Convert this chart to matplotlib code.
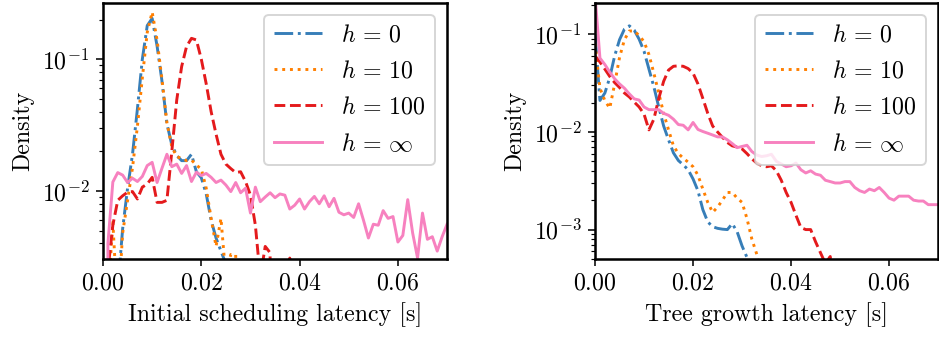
import matplotlib
matplotlib.use("Agg")
import matplotlib.pyplot as plt
import numpy as np

# bin positions [s], 1 ms bins
latency = np.arange(71) / 1000.0

labels = [r"$h\,=\,0$", r"$h\,=\,10$", r"$h\,=\,100$", r"$h\,=\,\infty$"]
colors = ["#377eb8", "#ff7f00", "#e41a1c", "#f781bf"]
styles = ["-.", ":", "--", "-"]

# initial scheduling latency densities
sched_h0 = [0, 0, 0, 0.0018, 0.0052, 0.0105, 0.019, 0.042, 0.1, 0.18,
            0.204, 0.126, 0.068, 0.0324, 0.0224, 0.0186, 0.017, 0.017, 0.019, 0.014,
            0.0126, 0.0095, 0.006, 0.0044, 0.0035, 0.0028, 0, 0, 0, 0,
            0, 0, 0, 0, 0, 0, 0, 0, 0, 0,
            0, 0, 0, 0, 0, 0, 0, 0, 0, 0,
            0, 0, 0, 0, 0, 0, 0, 0, 0, 0,
            0, 0, 0, 0, 0, 0, 0, 0, 0, 0, 0]
sched_h10 = [0, 0.0015, 0.0058, 0.0012, 0.0048, 0.0085, 0.015, 0.031, 0.072, 0.16,
             0.228, 0.14, 0.07, 0.033, 0.0217, 0.0182, 0.0177, 0.017, 0.0172, 0.0157,
             0.0147, 0.0105, 0.0062, 0.0038, 0.0062, 0.0022, 0.0033, 0.0033, 0, 0,
             0, 0, 0, 0, 0, 0, 0, 0, 0, 0,
             0, 0, 0, 0, 0, 0, 0, 0, 0, 0,
             0, 0, 0, 0, 0, 0, 0, 0, 0, 0,
             0, 0, 0, 0, 0, 0, 0, 0, 0, 0, 0]
sched_h100 = [0, 0.0025, 0.0055, 0.0085, 0.0092, 0.0098, 0.0099, 0.0087, 0.0107, 0.0113,
              0.0127, 0.0082, 0.0082, 0.0085, 0.02, 0.049, 0.088, 0.125, 0.144, 0.14,
              0.1, 0.065, 0.04, 0.027, 0.019, 0.016, 0.0148, 0.0138, 0.014, 0.0118,
              0.0093, 0.0055, 0.0022, 0.0038, 0.0034, 0, 0, 0, 0.0031, 0,
              0, 0, 0, 0, 0, 0, 0, 0, 0, 0,
              0, 0, 0, 0, 0, 0, 0, 0, 0, 0,
              0, 0, 0, 0, 0, 0, 0, 0, 0, 0, 0]
sched_hinf = [0, 0.004, 0.0117, 0.0138, 0.0132, 0.0116, 0.0125, 0.0118, 0.0129, 0.0156,
              0.0165, 0.0116, 0.0149, 0.019, 0.0153, 0.016, 0.0136, 0.0156, 0.0118, 0.0139,
              0.0131, 0.0136, 0.0127, 0.0116, 0.0121, 0.0111, 0.0099, 0.0116, 0.0097, 0.0105,
              0.0068, 0.0107, 0.0083, 0.009, 0.0097, 0.0089, 0.0095, 0.0093, 0.0073, 0.0078,
              0.0087, 0.0073, 0.0083, 0.0091, 0.008, 0.0092, 0.0076, 0.0088, 0.0069, 0.0066,
              0.0068, 0.0063, 0.008, 0.006, 0.0044, 0.0056, 0.0055, 0.0071, 0.0062, 0.0064,
              0.0041, 0.0046, 0.0086, 0.0048, 0.0031, 0.0068, 0.0043, 0.0045, 0.0035, 0.0045,
              0.0056]

# tree growth latency densities
tree_h0 = [0.1, 0.021, 0.025, 0.036, 0.06, 0.088, 0.113, 0.122, 0.11, 0.089,
           0.067, 0.044, 0.029, 0.018, 0.0115, 0.0083, 0.0061, 0.0051, 0.0046, 0.0041,
           0.0033, 0.0025, 0.0016, 0.0012, 0.00107, 0.00103, 0.00101, 0.001, 0.00115, 0.00095,
           0.00068, 0.00052, 0, 0, 0, 0, 0, 0, 0, 0,
           0, 0, 0, 0, 0, 0, 0, 0, 0, 0,
           0, 0, 0, 0, 0, 0, 0, 0, 0, 0,
           0, 0, 0, 0, 0, 0, 0, 0, 0, 0, 0]
tree_h10 = [0.08, 0.028, 0.021, 0.0175, 0.031, 0.058, 0.088, 0.108, 0.108, 0.097,
            0.084, 0.062, 0.04, 0.025, 0.0155, 0.0105, 0.0072, 0.006, 0.0054, 0.0049,
            0.0044, 0.0036, 0.0026, 0.0019, 0.0015, 0.0017, 0.002, 0.0024, 0.0024, 0.0021,
            0.0019, 0.0013, 0.0008, 0.00056, 0.0003, 0, 0, 0, 0, 0,
            0, 0, 0, 0, 0, 0, 0, 0, 0, 0,
            0, 0, 0, 0, 0, 0, 0, 0, 0, 0,
            0, 0, 0, 0, 0, 0, 0, 0, 0, 0, 0]
tree_h100 = [0.06, 0.052, 0.044, 0.037, 0.032, 0.0285, 0.025, 0.0228, 0.0202, 0.018,
             0.0152, 0.0105, 0.0135, 0.022, 0.033, 0.043, 0.047, 0.0475, 0.047, 0.0445,
             0.04, 0.031, 0.022, 0.0155, 0.0115, 0.01, 0.0088, 0.0078, 0.0072, 0.007,
             0.0067, 0.006, 0.0053, 0.0048, 0.0045, 0.0044, 0.0045, 0.004, 0.0032, 0.0024,
             0.0019, 0.0014, 0.00105, 0.001, 0.001, 0.00075, 0.00058, 0.00045, 0.00053, 0,
             0, 0, 0, 0, 0, 0, 0, 0, 0, 0,
             0, 0, 0, 0, 0, 0, 0, 0, 0, 0, 0]
tree_hinf = [0.25, 0.057, 0.049, 0.041, 0.035, 0.031, 0.028, 0.0245, 0.0218, 0.0212,
             0.018, 0.0169, 0.0169, 0.0169, 0.0155, 0.0148, 0.0135, 0.0119, 0.0117, 0.0105,
             0.0125, 0.0106, 0.0101, 0.0097, 0.0093, 0.0089, 0.0089, 0.0083, 0.0076, 0.0069,
             0.0071, 0.0073, 0.0063, 0.0058, 0.0056, 0.0057, 0.0059, 0.005, 0.0047, 0.0044,
             0.0045, 0.0048, 0.0041, 0.0038, 0.004, 0.0037, 0.0036, 0.0032, 0.0031, 0.003,
             0.003, 0.0031, 0.0031, 0.0027, 0.0025, 0.0024, 0.0026, 0.0025, 0.0027, 0.0024,
             0.0021, 0.002, 0.0022, 0.0022, 0.0022, 0.002, 0.00196, 0.00196, 0.0018, 0.0018,
             0.0018]

plt.rcParams["font.family"] = "serif"
plt.rcParams["font.serif"] = ["cmr10"]
plt.rcParams["mathtext.fontset"] = "cm"
plt.rcParams["axes.formatter.use_mathtext"] = True
plt.rcParams["font.size"] = 12.3
plt.rcParams["axes.linewidth"] = 1.3


def draw(ax, series, xlabel, ylim):
    for ys, label, color, ls in zip(series, labels, colors, styles):
        ax.plot(latency, ys, color=color, linestyle=ls, lw=1.5, label=label)
    ax.set_yscale("log")
    ax.set_xlim(0, 0.07)
    ax.set_ylim(*ylim)
    ax.set_xticks([0, 0.02, 0.04, 0.06])
    ax.set_xlabel(xlabel)
    ax.set_ylabel("Density")
    ax.legend(loc="upper right", labelspacing=0.58)


fig = plt.figure(figsize=(939 / 140, 337 / 140), dpi=140)
ax1 = fig.add_axes([0.1097, 0.2315, 0.3664, 0.7596])
ax2 = fig.add_axes([0.6337, 0.2315, 0.3653, 0.7596])

draw(ax1, [sched_h0, sched_h10, sched_h100, sched_hinf],
     "Initial scheduling latency [s]", (0.00305, 0.267))
draw(ax2, [tree_h0, tree_h10, tree_h100, tree_hinf],
     "Tree growth latency [s]", (0.0005, 0.209))

fig.savefig("out.png", dpi=140)
